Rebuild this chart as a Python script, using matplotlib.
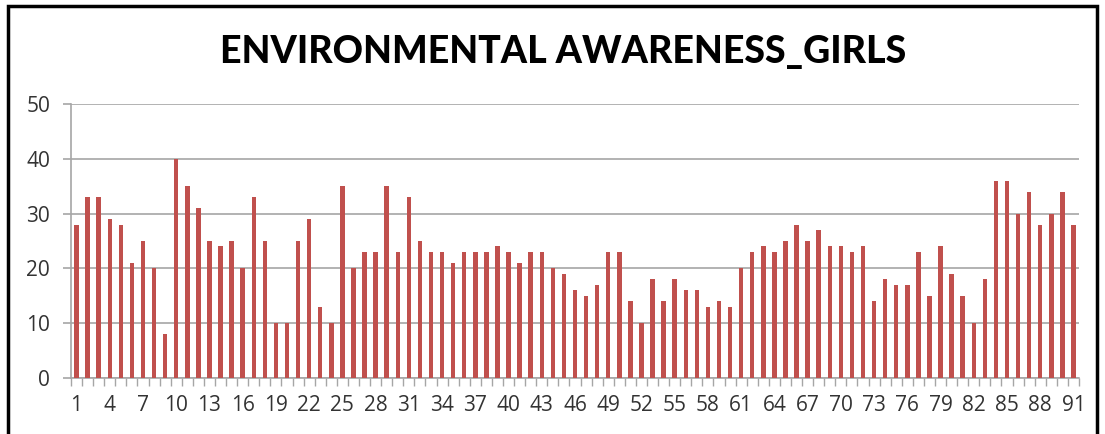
import matplotlib
matplotlib.use("Agg")
import matplotlib.pyplot as plt
from matplotlib.patches import Rectangle
from matplotlib.ticker import FixedLocator, NullFormatter

respondents = list(range(1, 92))
scores = [28, 33, 33, 29, 28, 21, 25, 20, 8, 40,
          35, 31, 25, 24, 25, 20, 33, 25, 10, 10,
          25, 29, 13, 10, 35, 20, 23, 23, 35, 23,
          33, 25, 23, 23, 21, 23, 23, 23, 24, 23,
          21, 23, 23, 20, 19, 16, 15, 17, 23, 23,
          14, 10, 18, 14, 18, 16, 16, 13, 14, 13,
          20, 23, 24, 23, 25, 28, 25, 27, 24, 24,
          23, 24, 14, 18, 17, 17, 23, 15, 24, 19,
          15, 10, 18, 36, 36, 30, 34, 28, 30, 34, 28]
x_labels = respondents[::3]
y_ticks = [0, 10, 20, 30, 40, 50]
title = "ENVIRONMENTAL AWARENESS_GIRLS"

plt.rcParams["font.family"] = ["Open Sans", "DejaVu Sans"]

fig = plt.figure(figsize=(11.05, 4.34), dpi=100)
ax = fig.add_axes([71 / 1105, 56 / 434, 1008 / 1105, 274 / 434])

ax.bar(respondents, scores, width=0.4, color="#C0504D", zorder=3)

ax.set_xlim(0.5, len(respondents) + 0.5)
ax.set_ylim(0, 50)
ax.set_yticks(y_ticks)
ax.grid(axis="y", color="#A6A6A6", linewidth=1.2, zorder=0)

ax.set_xticks(x_labels)
ax.set_xticklabels([str(v) for v in x_labels], fontsize=15, color="#333333")
ax.tick_params(axis="x", which="major", length=0, pad=12)
ax.xaxis.set_minor_locator(FixedLocator([i + 0.5 for i in range(0, len(respondents) + 1)]))
ax.xaxis.set_minor_formatter(NullFormatter())
ax.tick_params(axis="x", which="minor", length=6, width=1, color="#A6A6A6", direction="out")
ax.tick_params(axis="y", length=6, width=1.2, color="#A6A6A6", labelsize=15,
               labelcolor="#333333", pad=9)

for side in ("top", "right"):
    ax.spines[side].set_visible(False)
for side in ("left", "bottom"):
    ax.spines[side].set_color("#A6A6A6")
    ax.spines[side].set_linewidth(1.2)

fig.text(0.51, 0.88, title, ha="center", va="center", fontsize=27,
         fontweight="black", color="black", family=["Lato", "DejaVu Sans"])

frame = Rectangle((8 / 1105, -0.1), 1089 / 1105, 1.1 - 6 / 434,
                  transform=fig.transFigure, fill=False, edgecolor="black",
                  linewidth=2.5, zorder=10)
fig.patches.append(frame)

fig.savefig("out.png", dpi=100)
